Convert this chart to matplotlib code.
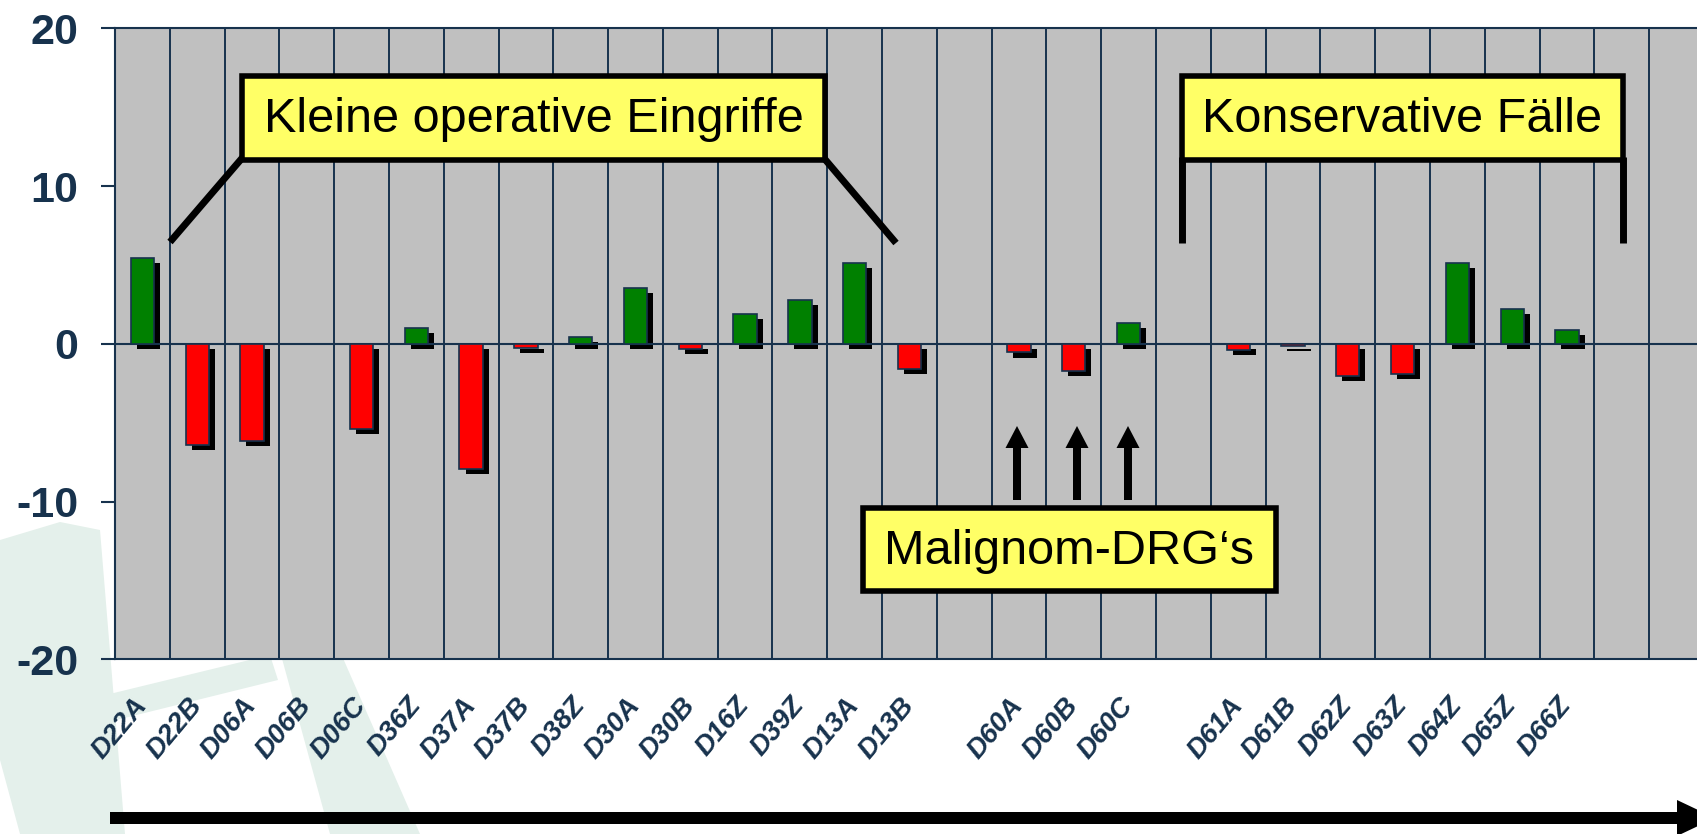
import numpy as np
import matplotlib
matplotlib.use('Agg')
import matplotlib.pyplot as plt
from matplotlib.patches import Rectangle, Polygon
from matplotlib.lines import Line2D
from matplotlib.transforms import Affine2D

plt.rcParams['font.family'] = ['Liberation Sans', 'DejaVu Sans']

# data: empty strings mark the gaps between the groups
categories = ['D22A', 'D22B', 'D06A', 'D06B', 'D06C', 'D36Z', 'D37A', 'D37B', 'D38Z',
              'D30A', 'D30B', 'D16Z', 'D39Z', 'D13A', 'D13B', '',
              'D60A', 'D60B', 'D60C', '',
              'D61A', 'D61B', 'D62Z', 'D63Z', 'D64Z', 'D65Z', 'D66Z', '', '']
values = [5.45, -6.4, -6.15, 0.0, -5.4, 1.0, -7.95, -0.25, 0.45,
          3.55, -0.3, 1.9, 2.75, 5.15, -1.6, np.nan,
          -0.55, -1.7, 1.35, np.nan,
          -0.4, -0.15, -2.05, -1.9, 5.15, 2.2, 0.9, np.nan, np.nan]
yticks = [-20, -10, 0, 10, 20]

navy = '#17324D'
W, H = 1697, 834
fig = plt.figure(figsize=(W / 100, H / 100), dpi=100)

# pixel coords measured from the top-left corner
pix = Affine2D().scale(1, -1).translate(0, H)

# faint logo watermark
wm = '#E4F0EB'
for pts in [[(0, 540), (60, 522), (100, 530), (125, 834), (20, 834), (0, 760)],
            [(85, 700), (270, 655), (278, 680), (92, 726)],
            [(255, 560), (300, 560), (420, 834), (330, 834)]]:
    fig.add_artist(Polygon(pts, closed=True, transform=pix, facecolor=wm,
                           edgecolor='none', zorder=-2))

ax = fig.add_axes([115 / W, (H - 659.3) / H, 1 - 115 / W, (659.3 - 28.3) / H])
ax.set_facecolor('#C0C0C0')

x = np.arange(len(categories))
vals = np.array(values, dtype=float)
mask = np.isfinite(vals) & (vals != 0)
colors = np.where(vals > 0, '#008000', '#FF0000')

bw = 0.425
sx, sy = 0.11, 0.32  # shadow offset (data units)
ax.bar(x[mask] + sx, vals[mask], bw, bottom=-sy, color='black', zorder=2)
ax.axhline(0, color=navy, lw=1.5, zorder=2.5)
ax.bar(x[mask], vals[mask], bw, color=colors[mask], edgecolor=navy, lw=1.2, zorder=3)

for b in np.arange(len(categories)) - 0.5:
    ax.axvline(b, color=navy, lw=1.4, zorder=1)

ax.set_xlim(-0.5, -0.5 + (W - 115) / 54.79)
ax.set_ylim(-20, 20)
ax.set_yticks(yticks)
ax.set_yticklabels([str(t) for t in yticks], fontsize=31, fontweight='bold', color=navy)
ax.tick_params(axis='y', length=10.3, width=1.5, color=navy, pad=16)
ax.set_xticks(x)
ax.set_xticklabels(categories, rotation=50, ha='right', va='center',
                   rotation_mode='anchor', fontsize=20, fontweight='bold',
                   fontstyle='italic', color=navy)
ax.tick_params(axis='x', length=0, pad=30)
for s in ['right']:
    ax.spines[s].set_visible(False)
for s in ['left', 'top', 'bottom']:
    ax.spines[s].set_color(navy)
    ax.spines[s].set_linewidth(1.5)


def box(x0, y0, x1, y1, label):
    fig.add_artist(Rectangle((x0, y0), x1 - x0, y1 - y0, transform=pix,
                             facecolor='#FFFF66', edgecolor='black', lw=4, zorder=6))
    fig.text((x0 + x1) / 2, (y0 + y1) / 2 + 2, label, transform=pix, ha='center',
             va='center', fontsize=35, color='black', zorder=7)


def seg(p0, p1):
    fig.add_artist(Line2D([p0[0], p1[0]], [p0[1], p1[1]], transform=pix,
                          color='black', lw=5, solid_capstyle='butt', zorder=5))


def up_arrow(cx, tail, tip):
    hw, hl, sw = 11.5, 22, 4
    pts = [(cx - sw, tail), (cx - sw, tip + hl), (cx - hw, tip + hl), (cx, tip),
           (cx + hw, tip + hl), (cx + sw, tip + hl), (cx + sw, tail)]
    fig.add_artist(Polygon(pts, closed=True, transform=pix, facecolor='black',
                           edgecolor='none', zorder=6))


seg((243, 157), (170, 242))
seg((823, 157), (896, 243))
box(242, 76, 825, 160, 'Kleine operative Eingriffe')

seg((1182, 157), (1182, 243))
seg((1623, 157), (1623, 243))
box(1182, 76, 1623, 160, 'Konservative Fälle')

box(863, 508, 1276, 591, 'Malignom-DRG‘s')
for cx in [1017, 1077, 1128]:
    up_arrow(cx, 500, 426)

# long arrow at the bottom
fig.add_artist(Polygon([(110, 812), (1677, 812), (1677, 800), (1715, 818),
                        (1677, 836), (1677, 824), (110, 824)], closed=True,
                       transform=pix, facecolor='black', edgecolor='none', zorder=6))

fig.savefig('out.png', dpi=100)
